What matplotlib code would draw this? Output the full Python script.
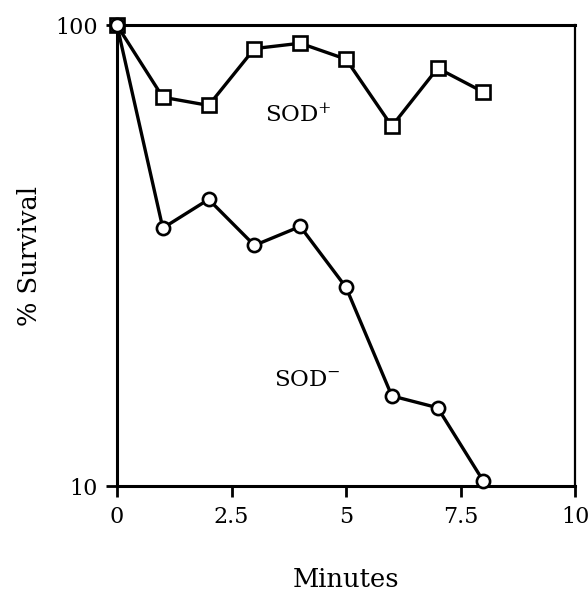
import matplotlib
matplotlib.use("Agg")
import matplotlib.pyplot as plt

# survival curves
minutes = [0, 1, 2, 3, 4, 5, 6, 7, 8]
sod_plus = [100, 69.8, 67.0, 89.0, 91.4, 84.4, 60.4, 80.7, 71.6]
sod_minus = [100, 36.3, 41.9, 33.3, 36.6, 27.0, 15.7, 14.8, 10.25]
xticks = [0, 2.5, 5, 7.5, 10]
xticklabels = ["0", "2.5", "5", "7.5", "10"]
yticks = [10, 100]
yticklabels = ["10", "100"]

plt.rcParams["font.family"] = ["DejaVu Serif"]
plt.rcParams["mathtext.fontset"] = "dejavuserif"

fig = plt.figure(figsize=(5.88, 6.01), dpi=100)
ax = fig.add_axes([0.199, 0.191, 0.779, 0.767])

ax.plot(minutes, sod_plus, color="black", lw=2.4, marker="s", ms=10.5,
        mfc="white", mec="black", mew=1.9, zorder=3, clip_on=False)
ax.plot(minutes, sod_minus, color="black", lw=2.4, marker="o", ms=9.5,
        mfc="white", mec="black", mew=1.9, zorder=3, clip_on=False)

ax.set_yscale("log")
ax.set_xlim(0, 10)
ax.set_ylim(10, 100)
ax.set_xticks(xticks)
ax.set_xticklabels(xticklabels)
ax.set_yticks(yticks)
ax.set_yticklabels(yticklabels)
ax.minorticks_off()
ax.tick_params(axis="both", direction="out", length=8, width=2, labelsize=16, pad=6)

for side in ["left", "bottom", "top"]:
    ax.spines[side].set_linewidth(2.2)
ax.spines["right"].set_linewidth(1.6)

ax.text(3.95, 63.8, "SOD$^{+}$", fontsize=16.5, ha="center", va="center")
ax.text(4.15, 17.0, "SOD$^{-}$", fontsize=16.5, ha="center", va="center")

ax.set_ylabel("% Survival", fontsize=18.5, labelpad=9)
ax.set_xlabel("Minutes", fontsize=18.5, labelpad=28)

fig.savefig("out.png", dpi=100)
